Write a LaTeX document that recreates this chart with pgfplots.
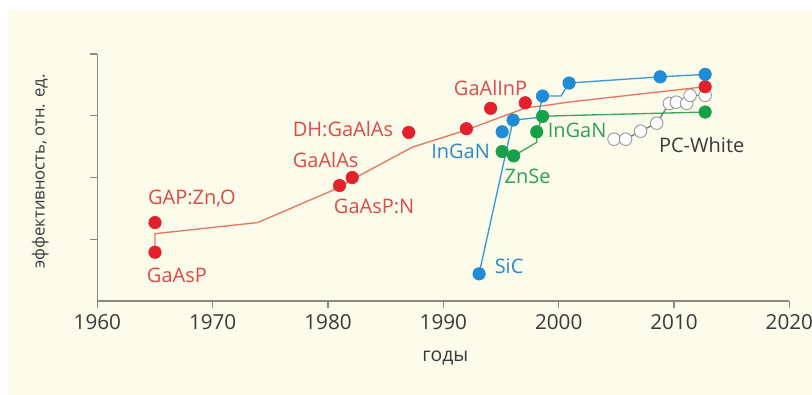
\documentclass[border=0pt]{standalone}
\usepackage{pgfplots}
\pgfplotsset{compat=1.18}
\usepackage{fontspec}
\setmainfont{Open Sans}

\definecolor{cream}{HTML}{FDFBEA}
\definecolor{reddot}{HTML}{E3202B}
\definecolor{redline}{HTML}{E8785F}
\definecolor{redtext}{HTML}{DD4A48}
\definecolor{bluedot}{HTML}{1E8CD6}
\definecolor{blueline}{HTML}{3A9AD9}
\definecolor{bluetext}{HTML}{2B8AC9}
\definecolor{greendot}{HTML}{16A04A}
\definecolor{greenline}{HTML}{38A85E}
\definecolor{greentext}{HTML}{2F9E5A}
\definecolor{grayline}{HTML}{707070}
\definecolor{grayedge}{HTML}{9A9A9A}
\definecolor{axisgray}{HTML}{8A8A80}
\definecolor{darktext}{HTML}{3A3A3A}

\begin{document}
\begin{tikzpicture}
% page and panel background
\path[use as bounding box, fill=white] (-73pt,-70.5pt) rectangle (536pt,225.75pt);
\fill[cream] (-67pt,-70.5pt) rectangle (536pt,218.25pt);

\begin{axis}[
  at={(0pt,0pt)}, anchor=south west,
  scale only axis, width=519pt, height=185.25pt,
  xmin=1960, xmax=2020, ymin=0, ymax=4,
  axis lines=left,
  axis line style={-, draw=axisgray, line width=0.8pt},
  clip=false,
  xtick={1960,1970,1980,1990,2000,2010,2020},
  xticklabels={1960,1970,1980,1990,2000,2010,2020},
  ytick={1,2,3,4}, yticklabels={},
  tick align=outside,
  major tick length=5.25pt,
  tick style={draw=axisgray, line width=0.8pt},
  xticklabel style={font=\fontsize{15.5}{17}\selectfont, text=darktext, yshift=-1pt},
  mark size=4.7pt,
]

% PC-White
\addplot[grayline, line width=0.9pt] coordinates {
  (2004.8,2.62) (2005.8,2.62) (2007.1,2.75) (2008.5,2.88) (2009.6,3.20)
  (2010.2,3.22) (2011.1,3.20) (2011.4,3.33) (2012.7,3.33)};
\addplot[only marks, mark=*, mark options={fill=white, draw=grayedge, line width=0.7pt}] coordinates {
  (2004.8,2.62) (2005.8,2.62) (2007.1,2.75) (2008.5,2.88) (2009.6,3.20)
  (2010.2,3.22) (2011.1,3.20) (2011.4,3.33) (2012.7,3.33)};

% red series
\addplot[redline, line width=1pt] coordinates {
  (1965,0.79) (1965,1.09) (1973.9,1.27) (1981,1.84) (1982.1,1.97) (1987.3,2.49)
  (1992,2.77) (1995.3,3.0) (1997.2,3.13) (1999,3.17) (2000.8,3.22) (2012.7,3.47)};
\addplot[only marks, mark=*, mark options={fill=reddot, draw=reddot}] coordinates {
  (1965,0.79) (1965,1.27) (1981,1.87) (1982.1,2.0) (1987,2.73) (1992,2.79)
  (1994.1,3.12) (1997.1,3.21) (2012.7,3.47)};

% blue series
\addplot[blueline, line width=1pt] coordinates {
  (1993.1,0.44) (1996.05,2.93) (1998.2,2.97) (1998.6,3.32) (2000.2,3.32)
  (2000.9,3.53) (2008.8,3.63) (2012.7,3.67)};
\addplot[only marks, mark=*, mark options={fill=bluedot, draw=bluedot}] coordinates {
  (1993.1,0.44) (1995.1,2.74) (1996.05,2.93) (1998.6,3.32) (2000.9,3.53)
  (2008.8,3.63) (2012.7,3.67)};

% green series
\addplot[greenline, line width=1pt] coordinates {
  (1995.1,2.42) (1996.1,2.35) (1998.1,2.57) (1998.1,2.74) (1998.6,2.99)
  (2000.1,3.0) (2012.7,3.06)};
\addplot[only marks, mark=*, mark options={fill=greendot, draw=greendot}] coordinates {
  (1995.1,2.42) (1996.1,2.35) (1998.1,2.74) (1998.6,2.99) (2012.7,3.06)};

% labels
\begin{scope}[every node/.style={font=\fontsize{15}{17}\selectfont, inner sep=0pt}]
\node[text=redtext] at (axis cs:1968.2,1.66) {GAP:Zn,O};
\node[text=redtext] at (axis cs:1966.9,0.41) {GaAsP};
\node[text=redtext] at (axis cs:1979.8,2.29) {GaAlAs};
\node[text=redtext] at (axis cs:1984.0,1.53) {GaAsP:N};
\node[text=redtext] at (axis cs:1981.3,2.78) {DH:GaAlAs};
\node[text=redtext] at (axis cs:1994.1,3.45) {GaAlInP};
\node[text=bluetext] at (axis cs:1991.5,2.42) {InGaN};
\node[text=bluetext] at (axis cs:1995.7,0.57) {SiC};
\node[text=greentext] at (axis cs:1997.3,2.02) {ZnSe};
\node[text=greentext] at (axis cs:2001.6,2.76) {InGaN};
\node[text=darktext] at (axis cs:2012.4,2.52) {PC-White};
\end{scope}
\end{axis}

% axis titles
\node[font=\fontsize{14.5}{16}\selectfont, text=darktext] at (261pt,-42.75pt) {годы};
\node[rotate=90, font=\fontsize{12.5}{14}\selectfont, text=darktext] at (-42.75pt,97pt) {эффективность, отн. ед.};
\end{tikzpicture}
\end{document}
